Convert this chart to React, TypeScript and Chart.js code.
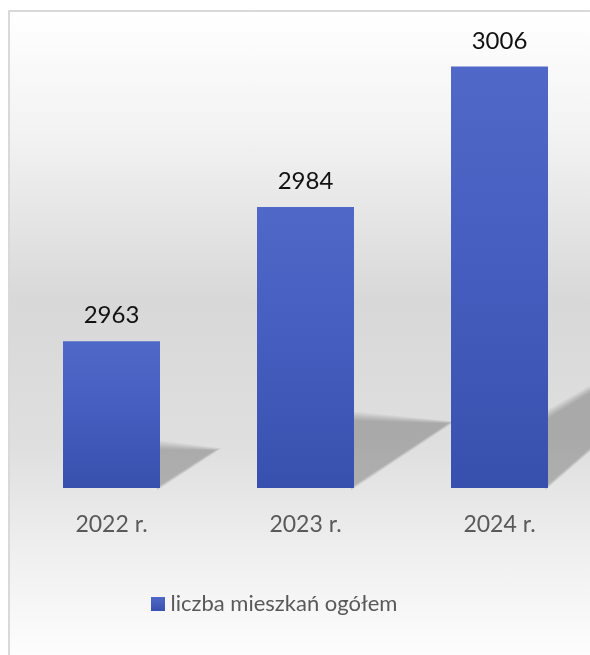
import { useEffect, useRef } from "react";
import { Chart, registerables } from "chart.js";

Chart.register(...registerables);

const categories = ["2022 r.", "2023 r.", "2024 r."];
const seriesName = "liczba mieszkań ogółem";
const values = [2963, 2984, 3006];

const FONT = "Lato, 'Open Sans', sans-serif";

function makeLegendSwatch(): HTMLCanvasElement {
  const c = document.createElement("canvas");
  c.width = 14;
  c.height = 14;
  const x = c.getContext("2d")!;
  const g = x.createLinearGradient(0, 0, 0, 14);
  g.addColorStop(0, "#5069c8");
  g.addColorStop(1, "#3a50ae");
  x.fillStyle = g;
  x.fillRect(0, 0, 14, 14);
  return c;
}

export default function App() {
  const ref = useRef<HTMLCanvasElement>(null);

  useEffect(() => {
    const canvas = ref.current!;
    const swatch = makeLegendSwatch();

    const legendShift = {
      id: "legendShift",
      afterLayout(chart: any) {
        const lg = chart.legend;
        if (lg) {
          lg.right -= 58;
          lg.width -= 58;
        }
      },
    };

    const shadowPlugin = {
      id: "barShadows",
      beforeDatasetsDraw(chart: any) {
        const ctx = chart.ctx as CanvasRenderingContext2D;
        const meta = chart.getDatasetMeta(0);
        const ys = chart.scales.y;
        const xs = chart.scales.x;
        meta.data.forEach((el: any, i: number) => {
          const base = ys.getPixelForValue(ys.min);
          const top = ys.getPixelForValue(values[i]);
          const cx = xs.getPixelForValue(i);
          const w = el.width || 97;
          const h = base - top;
          const R = cx + w / 2;
          const nearH = Math.min(0.28 * h, 70);
          const sTop = Math.max(-0.05, (h - 300) / 200);
          const sBot = Math.max(0.68, 0.68 + (h - 300) / 620);
          const dx = nearH / (sBot - sTop);
          const tipX = R + dx;
          const tipY = base - sBot * dx;
          const layers = 9;
          for (let k = 0; k < layers; k++) {
            const e = (layers - 1 - k) * 1.1 - 2;
            ctx.save();
            ctx.fillStyle = "rgba(0,0,0,0.033)";
            ctx.beginPath();
            ctx.moveTo(R - 3, base + e * 0.4);
            ctx.lineTo(R - 3, base - nearH - e);
            ctx.lineTo(tipX + e * 0.8, tipY - e * 0.2);
            ctx.closePath();
            ctx.fill();
            ctx.restore();
          }
        });
      },
    };

    const labelPlugin = {
      id: "valueLabels",
      afterDatasetsDraw(chart: any) {
        const ctx = chart.ctx as CanvasRenderingContext2D;
        const meta = chart.getDatasetMeta(0);
        const data = chart.data.datasets[0].data as number[];
        ctx.save();
        ctx.font = `24px ${FONT}`;
        ctx.fillStyle = "#111111";
        ctx.textAlign = "center";
        ctx.textBaseline = "alphabetic";
        meta.data.forEach((el: any, i: number) => {
          const p = el.getProps(["x", "y"], true);
          ctx.fillText(String(data[i]), p.x, p.y - 18);
        });
        ctx.restore();
      },
    };

    const chart = new Chart(canvas, {
      type: "bar",
      data: {
        labels: categories,
        datasets: [
          {
            label: seriesName,
            data: values,
            borderWidth: 0,
            borderColor: "transparent",
            categoryPercentage: 1,
            barPercentage: 0.5,
            backgroundColor: (c: any) => {
              if (c.type !== "data") return "#4259bb";
              const chartObj = c.chart;
              const ys = chartObj.scales.y;
              if (!ys || !chartObj.chartArea) return "#4259bb";
              const top = ys.getPixelForValue(c.raw);
              const bottom = ys.getPixelForValue(ys.min);
              const g = chartObj.ctx.createLinearGradient(0, top, 0, bottom);
              g.addColorStop(0, "#5069c8");
              g.addColorStop(0.45, "#465ebf");
              g.addColorStop(1, "#3850ad");
              return g;
            },
          },
        ],
      },
      options: {
        responsive: false,
        animation: false,
        layout: { padding: { left: 4.5, right: 11.5, top: 29, bottom: 45 } },
        scales: {
          x: {
            grid: { display: false, drawTicks: false },
            border: { display: false },
            ticks: { color: "#595959", font: { family: FONT, size: 23 }, padding: 23 },
            afterFit: (s: any) => {
              s.height = 95;
            },
          },
          y: { display: false, min: 2940, max: 3010 },
        },
        plugins: {
          legend: {
            position: "bottom",
            labels: {
              usePointStyle: true,
              pointStyleWidth: 4,
              boxHeight: 14,
              color: "#595959",
              font: { family: FONT, size: 22 },
              padding: 10,
              generateLabels: (ch: any) =>
                ch.data.datasets.map((ds: any, i: number) => ({
                  text: ds.label,
                  fillStyle: "#4259bb",
                  strokeStyle: "transparent",
                  lineWidth: 0,
                  pointStyle: swatch,
                  hidden: false,
                  datasetIndex: i,
                  fontColor: "#595959",
                })),
            },
          },
          tooltip: { enabled: false },
        },
      },
      plugins: [legendShift, shadowPlugin, labelPlugin],
    } as any);

    return () => chart.destroy();
  }, []);

  return (
    <div
      style={{
        position: "fixed",
        left: 0,
        top: 0,
        width: 590,
        height: 655,
        overflow: "hidden",
        background: "#ffffff",
      }}
    >
      <div
        style={{
          position: "absolute",
          left: 8,
          top: 10,
          width: 600,
          height: 660,
          boxSizing: "border-box",
          borderLeft: "2px solid #d9d9d9",
          borderTop: "2px solid #d9d9d9",
          background:
            "linear-gradient(to bottom, #ffffff 0%, #f3f3f3 18%, #d8d8d8 44%, #dfdfdf 66%, #efefef 82%, #ffffff 100%)",
        }}
      >
        <canvas ref={ref} width={598} height={658} style={{ display: "block", width: 598, height: 658 }} />
      </div>
    </div>
  );
}
